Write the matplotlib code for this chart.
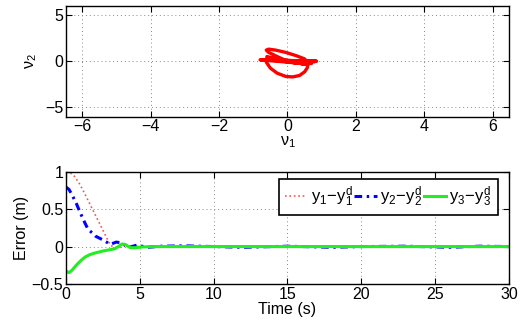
import matplotlib
matplotlib.use("Agg")
import matplotlib.pyplot as plt

plt.rcParams["font.family"] = "Liberation Sans"
plt.rcParams["mathtext.fontset"] = "custom"
plt.rcParams["mathtext.rm"] = "Liberation Sans"
plt.rcParams["mathtext.it"] = "Liberation Sans"
plt.rcParams["mathtext.bf"] = "Liberation Sans:bold"
plt.rcParams["font.size"] = 11.5

# phase trajectory (nu1, nu2): one loop, then the oscillation settling near 0
nu1 = [0.0, -0.3, -0.55, -0.62, -0.55, -0.35, -0.05, 0.25, 0.5, 0.6, 0.58, 0.5, 0.35, 0.15,
       -0.05, -0.3, -0.5, -0.62, -0.6, -0.3, 0.2, 0.6, -0.8, 0.85, -0.7, 0.8, -0.5, 0.7,
       -0.3, 0.6, -0.2, 0.5, -0.1, 0.45, 0.0, 0.35, 0.1, 0.3, 0.05]
nu2 = [0.0, 0.5, 0.95, 1.2, 1.3, 1.2, 0.95, 0.6, 0.25, -0.2, -0.7, -1.15, -1.55, -1.7,
       -1.65, -1.3, -0.75, -0.1, 0.5, 0.25, -0.1, -0.3, 0.15, 0.0, 0.12, -0.05, 0.15, -0.25,
       0.1, -0.35, 0.05, -0.3, 0.05, -0.2, 0.05, -0.15, 0.0, -0.05, 0.0]

# tracking errors
t1 = [0, 0.3, 0.6, 0.9, 1.2, 1.5, 1.85, 2.2, 2.55, 2.8, 3.0, 3.3, 3.6, 3.9, 4.2, 4.6, 5, 7, 10, 15, 20, 25, 30]
e1 = [1.0, 0.99, 0.94, 0.85, 0.74, 0.62, 0.48, 0.34, 0.2, 0.1, 0.02, -0.015, -0.01, 0.01, -0.005, 0.005, 0.0, 0.0, 0.0, 0.0, 0.0, 0.0, 0.0]

t2 = [0, 0.2, 0.4, 0.7, 1.0, 1.3, 1.5, 1.8, 2.0, 2.5, 3.0, 3.4, 3.8, 4.2, 4.8, 5.5, 6.5, 8, 10, 12, 15, 18, 20, 23, 26, 28, 30]
e2 = [0.8, 0.77, 0.7, 0.58, 0.44, 0.31, 0.23, 0.18, 0.14, 0.09, 0.03, 0.06, 0.05, -0.015, 0.02, -0.01, 0.005, 0.01, 0.0, -0.01, 0.005, -0.01, 0.0, 0.005, -0.01, 0.005, 0.0]

t3 = [0, 0.2, 0.4, 0.7, 1.0, 1.3, 1.6, 1.9, 2.2, 2.5, 2.9, 3.3, 3.55, 3.8, 4.05, 4.35, 4.7, 5.2, 6, 10, 15, 20, 25, 30]
e3 = [-0.33, -0.35, -0.32, -0.25, -0.19, -0.14, -0.11, -0.09, -0.075, -0.06, -0.045, -0.03, 0.0, 0.035, 0.025, -0.015, -0.015, -0.005, 0.0, 0.0, 0.0, 0.0, 0.0, 0.0]

fig = plt.figure(figsize=(5.22, 3.25), dpi=100)
ax1 = fig.add_axes([0.1264, 0.641, 0.8487, 0.3415])
ax2 = fig.add_axes([0.1264, 0.127, 0.8487, 0.343])

for ax in (ax1, ax2):
    ax.grid(True, linestyle=(0, (1, 3)), color="#888888", linewidth=0.7)
    ax.tick_params(direction="in", top=True, right=True, length=4, width=0.8,
                   labelsize=11.5, pad=2)
    for s in ax.spines.values():
        s.set_linewidth(1.0)

ax1.plot(nu1, nu2, color="red", linewidth=2.4)
ax1.set_xlim(-6.47, 6.47)
ax1.set_ylim(-6, 6)
ax1.set_xticks([-6, -4, -2, 0, 2, 4, 6])
ax1.set_yticks([-5, 0, 5])
ax1.set_xlabel(r"$\nu_1$", labelpad=0)
ax1.set_ylabel(r"$\nu_2$", labelpad=4)

ax2.plot(t1, e1, color="#ff5050", linestyle=":", linewidth=1.2, label=r"$y_1\!-\!y_1^d$")
ax2.plot(t2, e2, color="blue", linestyle=(0, (2.5, 1.5, 0.8, 1.5)), linewidth=2.2,
         label=r"$y_2\!-\!y_2^d$")
ax2.plot(t3, e3, color="#22ee22", linestyle="-", linewidth=2.2, label=r"$y_3\!-\!y_3^d$")
ax2.set_xlim(0, 30)
ax2.set_ylim(-0.5, 1)
ax2.set_xticks([0, 5, 10, 15, 20, 25, 30])
ax2.set_yticks([-0.5, 0, 0.5, 1])
ax2.set_yticklabels(["\u22120.5", "0", "0.5", "1"])
ax2.set_xlabel("Time (s)", labelpad=0)
ax2.set_ylabel("Error (m)", labelpad=2)

leg = ax2.legend(loc="upper right", bbox_to_anchor=(0.975, 0.94), ncol=3, fontsize=12,
                 frameon=True, fancybox=False, edgecolor="black", framealpha=1,
                 handlelength=1.35, handletextpad=0.2, columnspacing=0.05, borderpad=0.35,
                 borderaxespad=0.0)
leg.get_frame().set_linewidth(1.2)

fig.savefig("out.png", dpi=100)
